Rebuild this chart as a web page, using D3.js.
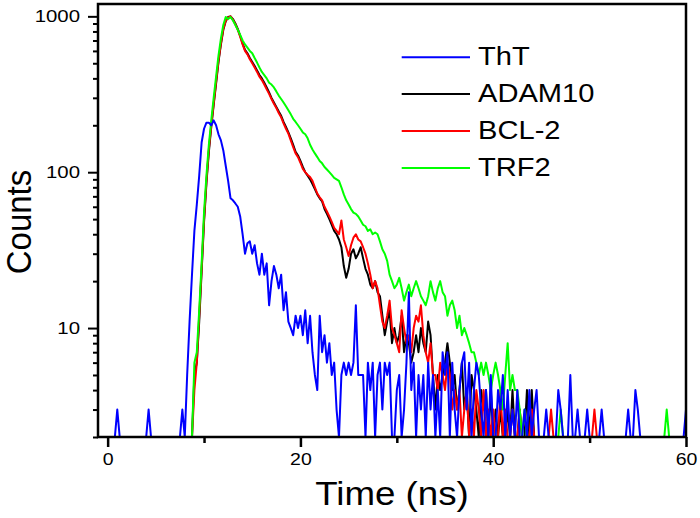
<!DOCTYPE html>
<html><head><meta charset="utf-8">
<script src="https://cdn.jsdelivr.net/npm/d3@7/dist/d3.min.js"></script>
<style>
body{margin:0;background:#fff}
text{font-family:Arial,"Liberation Sans",sans-serif;fill:#000}
</style></head>
<body><svg id="chart" width="700" height="518"></svg>
<script>
// ---- data (counts per 0.25 ns channel, t = 0 .. 60 ns) ----
const timeStart = 0, timeStep = 0.25;
const seriesNames = ["ThT", "ADAM10", "BCL-2", "TRF2"];
const seriesColors = ["#0000ff", "#000000", "#ff0000", "#00ff00"];

const tht = [
1,1,1,1, 3,1,1,1, 1,1,1,1, 1,1,1,1, 1,3,1,1, 1,1,1,1, 1,1,1,1, 1,1,1,3,
1,5,11,22, 42,62,95,155, 190,208,208,200, 215,200,175,160, 138,110,88,68,
66,63,60,52, 40,30,35,36, 30,34,26,22, 30,22,26,14, 20,25,22,18,
22,13,17,11, 10,9,12,10, 12,9,13,8, 12,7,5,4, 12,7,9,6,
8,5,6,3, 1,5,6,5, 6,5,6,14, 5,5,5,1, 6,4,6,2,
5,6,3,6, 5,6,2,1, 4,5,2,3, 6,17,4,6, 2,5,3,5,
1,6,3,5, 2,4,1,7, 5,7,2,6, 3,1,4,6, 7,3,6,1,
4,6,5,3, 1,4,2,5, 2,1,4,3, 5,2,4,1, 3,1,4,2,
1,3,1,4, 1,3,4,1, 1,1,3,1, 1,1,1,4, 3,1,1,1,
5,1,1,3, 1,1,1,3, 1,1,1,1, 1,3,1,1, 1,1,1,1,
1,1,1,1, 3,1,1,4, 3,1,1,1, 1,1,1,1, 1,1,1,1,
1,1,1,1, 1,1,1,1, 3];

const adam10 = [
1,1,1,1, 1,1,1,1, 1,1,1,1, 1,1,1,1, 1,1,1,1, 1,1,1,1, 1,1,1,1, 1,1,1,1,
1,1,1,2, 5,6,11,23, 48,85,135,195, 270,370,510,660, 820,930,990,1000,
960,900,830,750, 670,610,580,540, 510,480,450,420, 400,375,350,325, 300,280,262,245,
230,210,195,180, 165,150,135,128, 118,108,100,95, 90,84,78,72, 68,65,58,54,
50,46,42,40, 37,33,25,21, 24,30,32,28, 30,33,28,24, 22,19,18,20,
17,16,12,9, 11,13,8,10, 8,9,12,7, 9,8,6,7, 9,7,10,8,
7,11,9,5, 3,5,4,5, 6,8,6,4, 5,3,4,6, 3,4,2,5,
4,3,1,4, 3,4,2,4, 1,3,2,3, 1,2,3,1, 4,2,1,3,
1,2,4,1, 4,1,1,1, 1,1,1,1, 1,1,1,1, 1,1,1,1,
1,1,1,1, 1,1,1,1, 1,1,1,1, 1,1,1,1, 1,1,1,1,
1,1,1,1, 1,1,1,1, 1,1,1,1, 1,1,1,1, 1,1,1,1,
1,1,1,1, 1,1,1,1, 1];

const bcl2 = [
1,1,1,1, 1,1,1,1, 1,1,1,1, 1,1,1,1, 1,1,1,1, 1,1,1,1, 1,1,1,1, 1,1,1,1,
1,1,1,1, 4,6,12,24, 50,88,140,200, 275,380,520,670, 830,940,980,1000,
950,890,820,740, 660,600,570,530, 500,470,440,410, 390,365,340,318, 295,275,258,240,
225,206,190,177, 160,145,132,125, 115,105,100,96, 93,88,80,73, 69,66,60,56,
52,48,44,42, 40,49,37,33, 29,34,38,40, 37,36,33,30, 26,22,18,20,
18,14,11,10, 12,15,10,9, 8,7,13,10, 8,9,7,10, 12,11,14,9,
7,6,8,5, 5,4,6,5, 4,6,5,3, 4,3,4,2, 3,4,1,3,
2,4,3,1, 4,1,3,2, 3,1,2,4, 1,3,1,2, 3,1,1,3,
1,2,1,1, 3,1,1,1, 1,1,1,1, 3,1,1,1, 1,1,1,1,
1,1,1,1, 1,1,1,1, 1,1,3,1, 1,1,1,1, 1,1,1,1,
1,1,1,1, 1,1,1,1, 1,1,1,1, 1,1,1,1, 1,1,1,1,
1,1,1,1, 1,1,1,1, 1];

const trf2 = [
1,1,1,1, 1,1,1,1, 1,1,1,1, 1,1,1,1, 1,1,1,1, 1,1,1,1, 1,1,1,1, 1,1,1,1,
1,1,1,1, 6,7,13,26, 55,95,150,215, 300,410,560,720, 880,990,960,990,
940,880,820,760, 700,660,630,600, 580,540,505,470, 440,420,400,375, 365,350,330,310,
295,280,265,250, 235,220,210,200, 190,180,175,165, 150,140,132,125, 118,114,108,104,
100,96,92,90, 88,80,72,66, 62,58,55,54, 52,49,46,45, 42,43,40,41,
40,36,32,30, 27,22,20,18, 19,21,18,15, 17,19,16,18, 20,18,16,15,
14,16,20,17, 15,18,20,17, 16,12,14,15, 13,10,12,9, 10,9,8,7,
7,6,5,6, 5,6,5,4, 5,6,5,4, 3,5,8,4, 5,4,4,3,
2,3,1,1, 2,1,1,1, 1,1,1,1, 1,1,1,1, 3,1,1,1,
1,1,1,1, 1,1,1,1, 1,1,1,1, 1,1,1,1, 1,1,1,1,
1,1,1,1, 1,1,1,1, 1,1,1,1, 1,1,1,1, 1,1,1,1,
3,1,1,1, 1,1,1,1, 1];

const xMajorTicks = [0, 20, 40, 60];
const xMinorTicks = [10, 30, 50];
const yLabelTicks = [10, 100, 1000];
const xTitle = "Time (ns)";
const yTitle = "Counts";

// ---- drawing ----
const svg = d3.select("#chart");
const L = 98, R = 686, T = 4, B = 437;
const x = d3.scaleLinear().domain([-1, 60]).range([L, R]);
const y = d3.scaleLog().domain([2, 1200]).range([B, T]).clamp(true);

svg.append("defs").append("clipPath").attr("id", "clip")
  .append("rect").attr("x", L).attr("y", T).attr("width", R - L).attr("height", B - T);

const allSeries = [tht, adam10, bcl2, trf2];
const line = d3.line()
  .x((d, i) => x(timeStart + i * timeStep))
  .y(d => y(d));

const drawOrder = [1, 2, 3, 0];
const plot = svg.append("g").attr("clip-path", "url(#clip)");
drawOrder.forEach(k => {
  plot.append("path").datum(allSeries[k])
    .attr("d", line).attr("fill", "none")
    .attr("stroke", seriesColors[k]).attr("stroke-width", 2)
    .attr("stroke-linejoin", "round");
});

// x axis
const xTicksAll = xMajorTicks.concat(xMinorTicks).sort((a, b) => a - b);
const gx = svg.append("g").attr("transform", `translate(0,${B})`)
  .call(d3.axisBottom(x).tickValues(xTicksAll).tickSize(10).tickPadding(6)
    .tickFormat(d => xMajorTicks.includes(d) ? String(d) : ""));
gx.select(".domain").remove();
gx.selectAll(".tick line").attr("stroke", "#000").attr("stroke-width", 2.5)
  .attr("y2", d => xMajorTicks.includes(d) ? 10 : 6);
gx.selectAll(".tick text").attr("font-size", 17).attr("fill", "#000")
  .attr("transform", "scale(1.15,1)");

// y axis
const yTicksAll = [];
[1, 10, 100].forEach(dec => { for (let m = 1; m <= 9; m++) if (m * dec >= 2) yTicksAll.push(m * dec); });
yTicksAll.push(1000);
const gy = svg.append("g").attr("transform", `translate(${L},0)`)
  .call(d3.axisLeft(y).tickValues(yTicksAll).tickSize(10).tickPadding(8)
    .tickFormat(d => yLabelTicks.includes(d) ? String(d) : ""));
gy.select(".domain").remove();
gy.selectAll(".tick line").attr("stroke", "#000").attr("stroke-width", 2)
  .attr("x2", d => yLabelTicks.includes(d) ? -10 : -5);
gy.selectAll(".tick text").attr("font-size", 17).attr("fill", "#000")
  .attr("x", -18 / 1.2).attr("transform", "scale(1.2,1)");

// frame
svg.append("rect").attr("x", L).attr("y", T).attr("width", R - L).attr("height", B - T)
  .attr("fill", "none").attr("stroke", "#000").attr("stroke-width", 2.5);

// titles
svg.append("text").attr("transform", `translate(${(L + R) / 2},505) scale(1.08,1)`)
  .attr("text-anchor", "middle").attr("font-size", 34).text(xTitle);
svg.append("text").attr("transform", `translate(31,222) rotate(-90) scale(1,1.04)`)
  .attr("text-anchor", "middle").attr("font-size", 33).text(yTitle);

// legend
const legY = [57.3, 94, 131, 168];
const leg = svg.append("g");
seriesNames.forEach((name, k) => {
  leg.append("line").attr("x1", 401.7).attr("x2", 470).attr("y1", legY[k]).attr("y2", legY[k])
    .attr("stroke", seriesColors[k]).attr("stroke-width", 2);
  leg.append("text").attr("transform", `translate(478,${legY[k] + 8}) scale(1.12,1)`)
    .attr("font-size", 26).text(name);
});
</script></body></html>
